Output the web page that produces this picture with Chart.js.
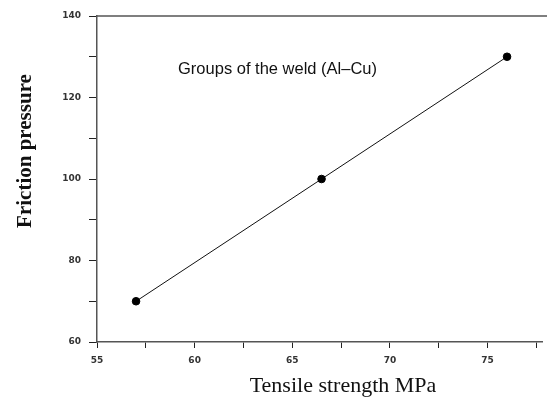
<!DOCTYPE html>
<html><head><meta charset="utf-8">
<script src="https://cdn.jsdelivr.net/npm/chart.js@4/dist/chart.umd.min.js"></script>
<style>html,body{margin:0;padding:0;background:#fff}#wrap{width:547px;height:399px}</style>
</head><body><div id="wrap"><canvas id="c" width="547" height="399"></canvas></div>
<script>
const tensileStrength = [57, 66.5, 76];
const frictionPressure = [70, 100, 130];
const xTickLabels = [55, 60, 65, 70, 75];
const yTickLabels = [60, 80, 100, 120, 140];
const annotationText = 'Groups of the weld (Al\u2013Cu)';
const xTitle = 'Tensile strength MPa';
const yTitle = 'Friction pressure';

const extras = {
  id: 'extras',
  afterDraw(chart) {
    const {ctx, chartArea, scales} = chart;
    ctx.save();
    ctx.strokeStyle = '#555';
    ctx.lineWidth = 1.5;
    ctx.beginPath();
    ctx.moveTo(chartArea.left, chartArea.top);
    ctx.lineTo(chart.width, chartArea.top);
    ctx.stroke();
    ctx.fillStyle = '#111';
    ctx.font = '16.5px "Liberation Sans", Arial, sans-serif';
    ctx.textBaseline = 'middle';
    ctx.textAlign = 'left';
    ctx.fillText(annotationText, scales.x.getPixelForValue(59.15), scales.y.getPixelForValue(126.8));
    // axis titles
    ctx.fillStyle = '#111';
    ctx.textAlign = 'center';
    ctx.textBaseline = 'alphabetic';
    ctx.font = '22px "Liberation Serif", "Times New Roman", serif';
    ctx.fillText(xTitle, 343, 392);
    ctx.translate(31, 151);
    ctx.rotate(-Math.PI / 2);
    ctx.font = 'bold 21px "Liberation Serif", "Times New Roman", serif';
    ctx.fillText(yTitle, 0, 0);
    ctx.restore();
  }
};

const tickFont = {family: '"DejaVu Sans", Verdana, sans-serif', size: 9, weight: 'bold'};

new Chart(document.getElementById('c'), {
  type: 'scatter',
  data: {
    datasets: [{
      data: tensileStrength.map((x, i) => ({x, y: frictionPressure[i]})),
      showLine: true,
      borderColor: '#111',
      borderWidth: 1,
      backgroundColor: '#000',
      pointBackgroundColor: '#000',
      pointBorderColor: '#000',
      pointRadius: 3.8,
      pointHoverRadius: 3.8
    }]
  },
  options: {
    responsive: false,
    animation: false,
    devicePixelRatio: 1,
    layout: {padding: {top: 16, right: 1, left: 0, bottom: 0}},
    plugins: {legend: {display: false}, tooltip: {enabled: false}},
    scales: {
      x: {
        type: 'linear', min: 55, max: 77.8,
        afterFit(s) { s.height = 57; },
        afterBuildTicks(s) { s.ticks = []; for (let v = 55; v <= 77.5; v += 2.5) s.ticks.push({value: v}); },
        ticks: {
          autoSkip: false, maxRotation: 0, padding: 7,
          color: '#333',
          font: tickFont,
          callback: v => xTickLabels.includes(v) ? String(v) : ''
        },
        grid: {drawOnChartArea: false, drawTicks: true, tickLength: 6, color: '#222', tickWidth: 1},
        border: {display: true, color: '#555', width: 1.5}
      },
      y: {
        type: 'linear', min: 60, max: 140,
        afterFit(s) { s.width = 97; },
        afterBuildTicks(s) { s.ticks = []; for (let v = 60; v <= 140; v += 10) s.ticks.push({value: v}); },
        ticks: {
          autoSkip: false, padding: 8,
          color: '#333',
          font: tickFont,
          callback: v => yTickLabels.includes(v) ? String(v) : ''
        },
        grid: {drawOnChartArea: false, drawTicks: true, tickLength: 8, color: '#222', tickWidth: 1},
        border: {display: true, color: '#555', width: 1.5}
      }
    }
  },
  plugins: [extras]
});
</script></body></html>
